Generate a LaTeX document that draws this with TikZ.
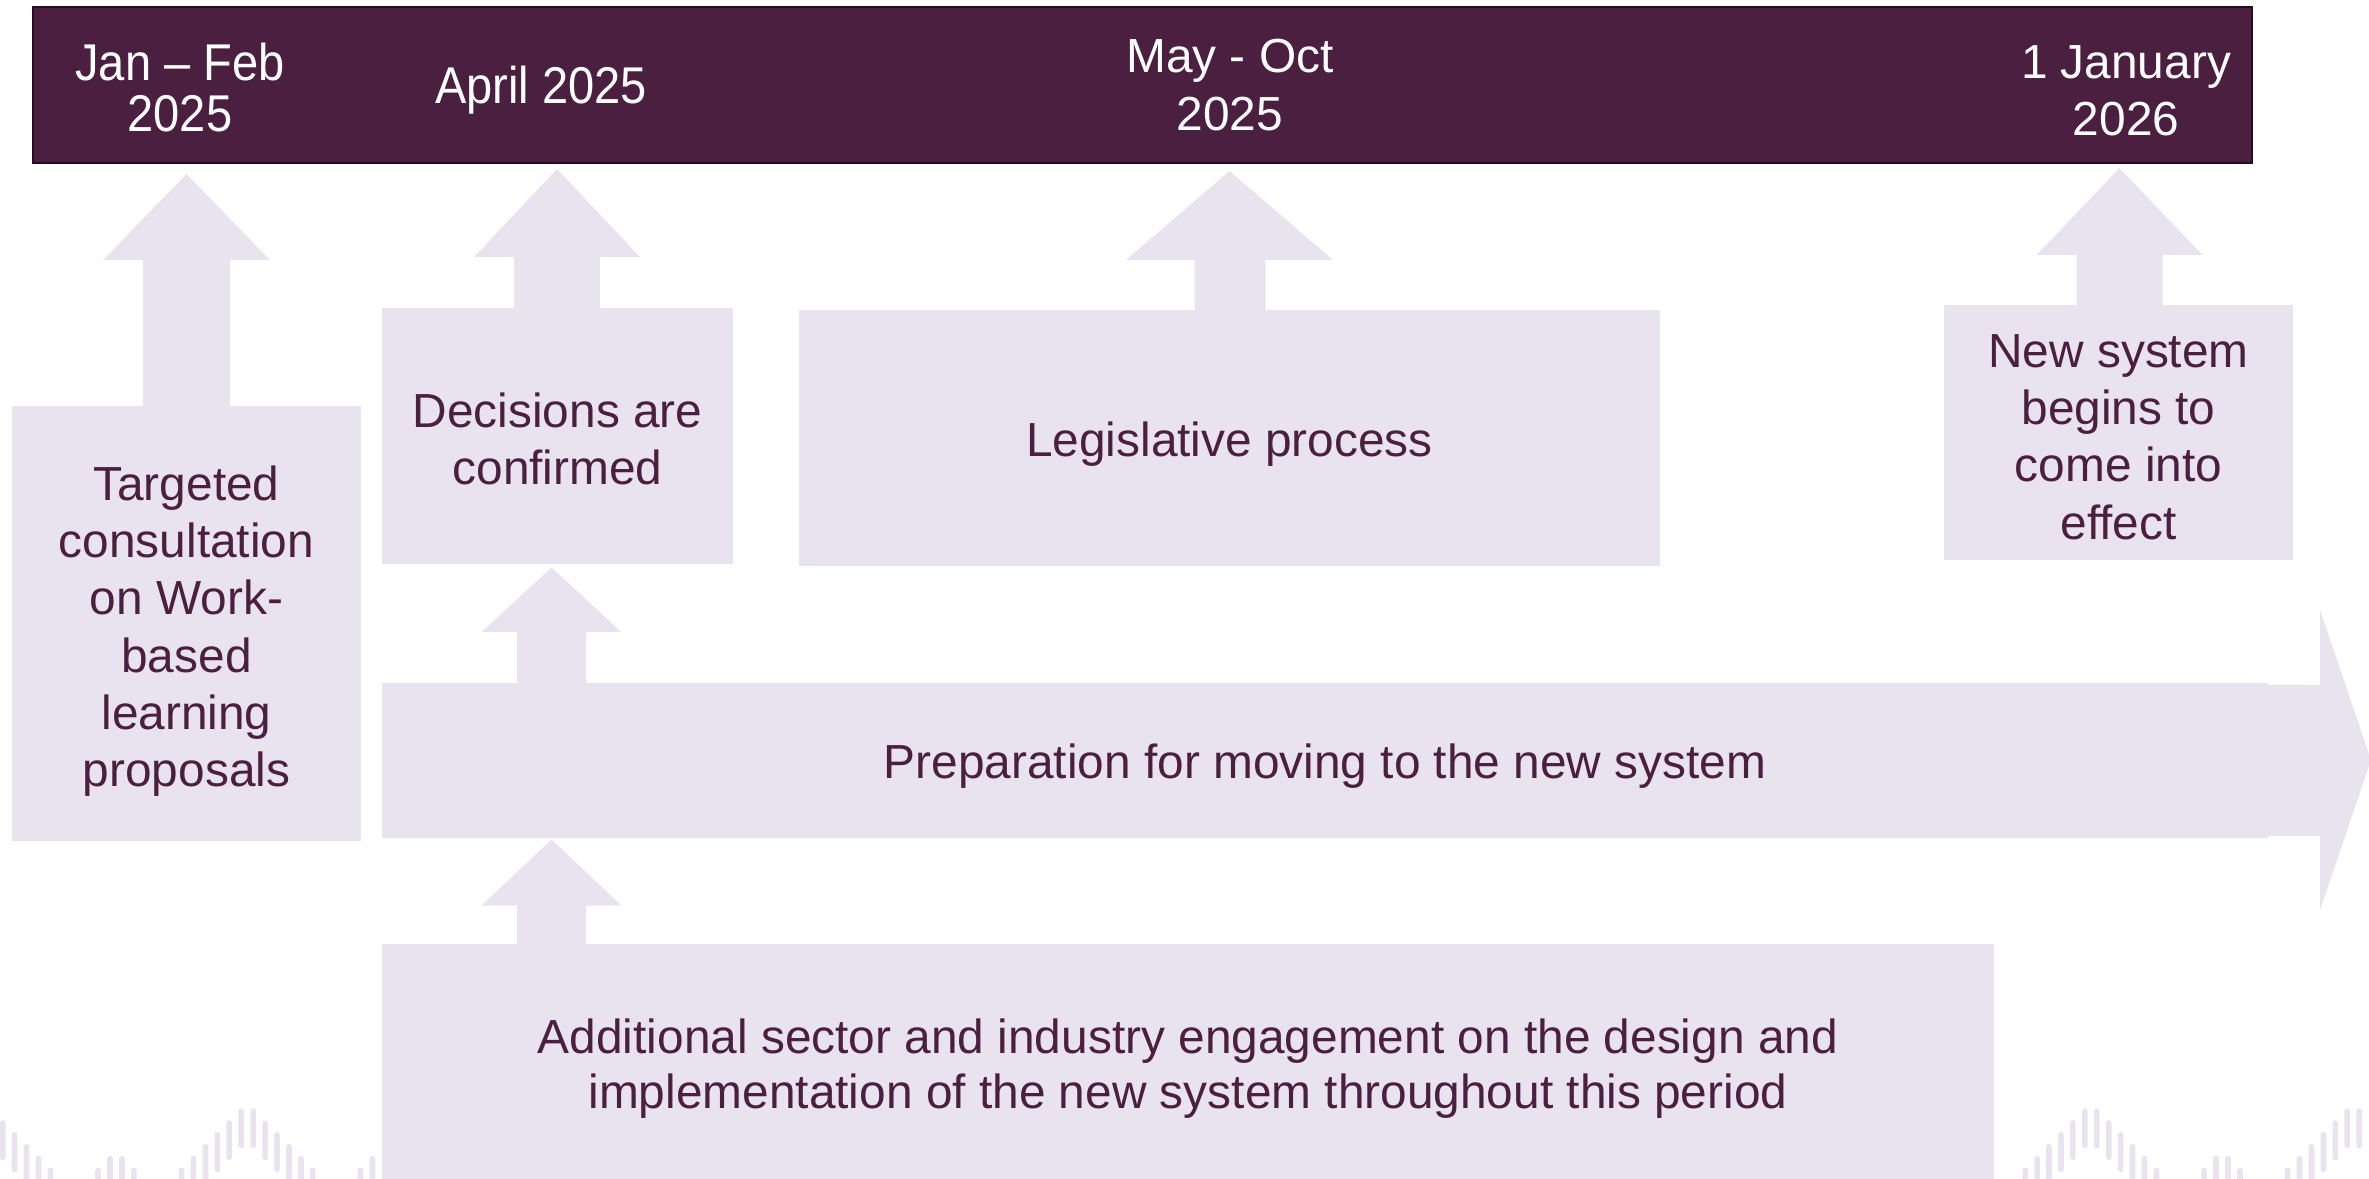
\documentclass[tikz,border=0pt]{standalone}
\usepackage{fontspec}
\setmainfont{Liberation Sans}
\newfontfamily\condfont[FakeStretch=0.91]{Liberation Sans}
\usetikzlibrary{calc}
\definecolor{plum}{RGB}{75,31,64}
\definecolor{plumline}{RGB}{38,12,30}
\definecolor{lav}{RGB}{233,227,240}
\begin{document}
\begin{tikzpicture}[x=0.01cm,y=-0.01cm,
  boxtext/.style={inner sep=0pt, text=plum, align=center,
    font=\fontsize{13.6}{16.3}\selectfont},
  datelbl/.style={text=white, align=center, inner sep=0pt,
    font=\fontsize{13.6}{16.3}\selectfont},
  conddate/.style={text=white, align=center, inner sep=0pt,
    font=\condfont\fontsize{14.7}{14.5}\selectfont},
  blockarrow/.style={fill=lav, draw=none},
  deco/.style={fill=lav, rounded corners=0.8pt}
]
\useasboundingbox (0,0) rectangle (2369,1179);

% decorative wave bars
\foreach \k/\L in {0/1,1/2,2/3,3/4,4/5,8/5,9/4,10/4,11/5,15/5,16/4,17/3,18/2,19/1,20/0,21/0,22/1,23/2,24/3,25/4,26/5,30/5,31/4}
  \fill[deco] ({11.93*\k-0.2},{1108.3+11.87*\L}) rectangle ++(5.7,40);
\foreach \k/\L in {0/5,1/4,2/3,3/2,4/1,5/0,6/0,7/1,8/2,9/3,10/4,11/5,15/5,16/4,17/4,18/5,22/5,23/4,24/3,25/2,26/1,27/0,28/0}
  \fill[deco] ({2022.3+11.93*\k},{1108.3+11.87*\L}) rectangle ++(5.7,40);

% top bar
\node[fill=plum, draw=plumline, line width=0.6pt, minimum width=22.17cm,
  minimum height=1.56cm, inner sep=0pt] (bar) at (1142.5,85) {};
\node[conddate] (d1) at (180,87.6) {Jan – Feb\\2025};
\node[conddate] (d2) at (541,90) {April 2025};
\node[datelbl] (d3) at (1230,85) {May - Oct\\2025};
\node[datelbl] (d4) at (2126,90.5) {1 January\\2026};

% block arrows up to the bar
\fill[blockarrow] (143,410) -- (143,260) -- (103,260) -- (186.5,174) -- (270,260) -- (230,260) -- (230,410) -- cycle;
\fill[blockarrow] (514,312) -- (514,257) -- (474,257) -- (557,169) -- (640,257) -- (600,257) -- (600,312) -- cycle;
\fill[blockarrow] (1194.5,314) -- (1194.5,260) -- (1126,260) -- (1229.5,171) -- (1333,260) -- (1265.5,260) -- (1265.5,314) -- cycle;
\fill[blockarrow] (2076.5,309) -- (2076.5,255) -- (2036.5,255) -- (2119.5,168) -- (2202.5,255) -- (2162.5,255) -- (2162.5,309) -- cycle;

% boxes
\fill[lav] (12,406) rectangle (361,841);
\node[boxtext] (tc) at (186.5,631)
  {Targeted\\consultation\\on Work-\\based\\learning\\proposals};
\fill[lav] (382,308) rectangle (733,564);
\node[boxtext] (dc) at (557.5,439)
  {Decisions are\\confirmed};
\fill[lav] (799,310) rectangle (1660,566);
\node[boxtext] (lp) at (1229.5,444)
  {Legislative process};
\fill[lav] (1944,305) rectangle (2293,560);
\node[boxtext] (ns) at (2118.5,437)
  {New system\\begins to\\come into\\effect};

% preparation arrow
\fill[blockarrow] (382,683) -- (2268,683) -- (2268,685) -- (2320,685) -- (2320,610)
  -- (2371,760) -- (2320,910) -- (2320,836) -- (2268,836) -- (2268,838) -- (382,838) -- cycle;
\node[boxtext] (prep) at (1325,766) {Preparation for moving to the new system};

% small arrows
\fill[blockarrow] (517,687) -- (517,632) -- (481.5,632) -- (551.5,567.5) -- (621.5,632) -- (586,632) -- (586,687) -- cycle;
\fill[blockarrow] (517,948) -- (517,905.5) -- (481.5,905.5) -- (551.5,839.5) -- (621.5,905.5) -- (586,905.5) -- (586,948) -- cycle;

% additional engagement box
\fill[lav] (382,944) rectangle (1994,1185);
\node[boxtext, font=\fontsize{13.6}{15.5}\selectfont] (add) at (1188,1068.5)
  {Additional sector and industry engagement on the design and\\implementation of the new system throughout this period};
\end{tikzpicture}
\end{document}
